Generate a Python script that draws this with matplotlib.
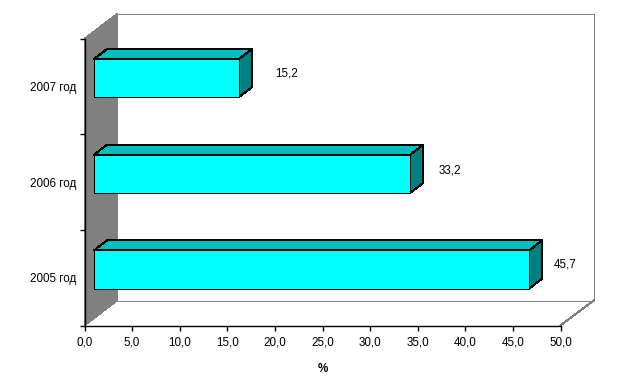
import matplotlib
matplotlib.use("Agg")
import matplotlib.pyplot as plt
from matplotlib.patches import Polygon
from matplotlib.transforms import Affine2D

categories = ["2005 год", "2006 год", "2007 год"]
values = [45.7, 33.2, 15.2]
x_ticks = [0, 5, 10, 15, 20, 25, 30, 35, 40, 45, 50]
x_label = "%"

W, H = 622, 385
L, R, T, B = 84.5, 560.5, 38.5, 325.5
DX, DY = 33, 25            # floor/wall depth, px
BDX, BDY = 13, 10          # bar depth, px
BAR_START = 1.0            # 3D bars start shifted off the wall
BAR_H = 0.40
BAR_SHIFT = 0.085
LABEL_OFF = [(36, 5), (40, 3.5), (48, 5)]
FS = 8.4
LW = 0.72                  # one pixel at 100 dpi

plt.rcParams["font.family"] = ["Liberation Sans", "DejaVu Sans"]
fig = plt.figure(figsize=(W / 100, H / 100), dpi=100, facecolor="white")
ax = fig.add_axes([L / W, 1 - B / H, (R - L) / W, (B - T) / H])
ax.set_xlim(0, 50)
ax.set_ylim(0, len(categories))
ax.patch.set_visible(False)
for s in ("top", "right"):
    ax.spines[s].set_visible(False)
for s in ("left", "bottom"):
    ax.spines[s].set_linewidth(LW * 1.4)
    ax.spines[s].set_zorder(6)


def shifted(dx, dy):
    """Data transform moved by a pixel offset (up is positive)."""
    return ax.transData + Affine2D().translate(dx, dy)


xmin, xmax = ax.get_xlim()
ymin, ymax = ax.get_ylim()
back = shifted(DX, DY)
GREY = "#808080"

# side wall (mixes front and back corners, so drawn in pixel space)
to_disp = ax.transData.transform
(x0, y0), (x1, y1) = to_disp((xmin, ymin)), to_disp((xmin, ymax))
ax.add_patch(Polygon([(x0, y0), (x1, y1), (x1 + DX, y1 + DY), (x0 + DX, y0 + DY)],
                     closed=True, transform=None, facecolor=GREY, edgecolor=GREY,
                     linewidth=0.3, antialiased=False, zorder=1, clip_on=False))
# back wall and floor outline
ax.plot([xmin, xmax, xmax], [ymax, ymax, ymin], color=GREY, lw=LW,
        transform=back, clip_on=False, zorder=1, antialiased=False)
ax.plot([xmin, xmax], [ymin, ymin], color=GREY, lw=LW,
        transform=back, clip_on=False, zorder=1, antialiased=False)
(x2, y2) = to_disp((xmax, ymin))
ax.plot([x2, x2 + DX], [y2, y2 + DY], color=GREY, lw=LW, transform=None,
        clip_on=False, zorder=1, antialiased=False)

# bars
positions = [i + 0.5 + BAR_SHIFT for i in range(len(categories))]
ax.barh(positions, values, left=BAR_START, height=BAR_H, color="#00FFFF",
        edgecolor="black", linewidth=LW, zorder=4, antialiased=False, clip_on=False)
for v, p, (ox, oy) in zip(values, positions, LABEL_OFF):
    xa, ya = to_disp((BAR_START, p + BAR_H / 2))
    xb, yb = to_disp((BAR_START + v, p + BAR_H / 2))
    yc = to_disp((BAR_START, p - BAR_H / 2))[1]
    ax.add_patch(Polygon([(xa, ya), (xb, yb), (xb + BDX, yb + BDY), (xa + BDX, ya + BDY)],
                         closed=True, transform=None, facecolor="#00BFBF", edgecolor="black",
                         linewidth=LW, antialiased=False, zorder=3, clip_on=False))
    ax.add_patch(Polygon([(xb, yb), (xb + BDX, yb + BDY), (xb + BDX, yc + BDY), (xb, yc)],
                         closed=True, transform=None, facecolor="#008080", edgecolor="black",
                         linewidth=LW, antialiased=False, zorder=3, clip_on=False))
    ax.annotate(f"{v:.1f}".replace(".", ","), xy=(BAR_START + v, p), xytext=(ox * 0.72, oy * 0.72),
                textcoords="offset points", ha="center", va="center", fontsize=FS,
                color="black", annotation_clip=False)

# axes
ax.set_xticks(x_ticks)
ax.set_xticklabels([f"{t:.1f}".replace(".", ",") for t in x_ticks], fontsize=FS)
ax.tick_params(axis="x", length=3.4, width=LW * 1.4, pad=4.2)
ax.set_yticks(range(len(categories) + 1))
ax.set_yticklabels([])
ax.tick_params(axis="y", which="major", length=3.4, width=LW * 1.4)
ax.set_yticks([i + 0.5 for i in range(len(categories))], minor=True)
ax.set_yticklabels(categories, minor=True, fontsize=FS)
ax.tick_params(axis="y", which="minor", length=0, pad=6)
ax.set_xlabel(x_label, fontsize=FS, fontweight="bold", labelpad=11)

fig.savefig("out.png", dpi=100)
